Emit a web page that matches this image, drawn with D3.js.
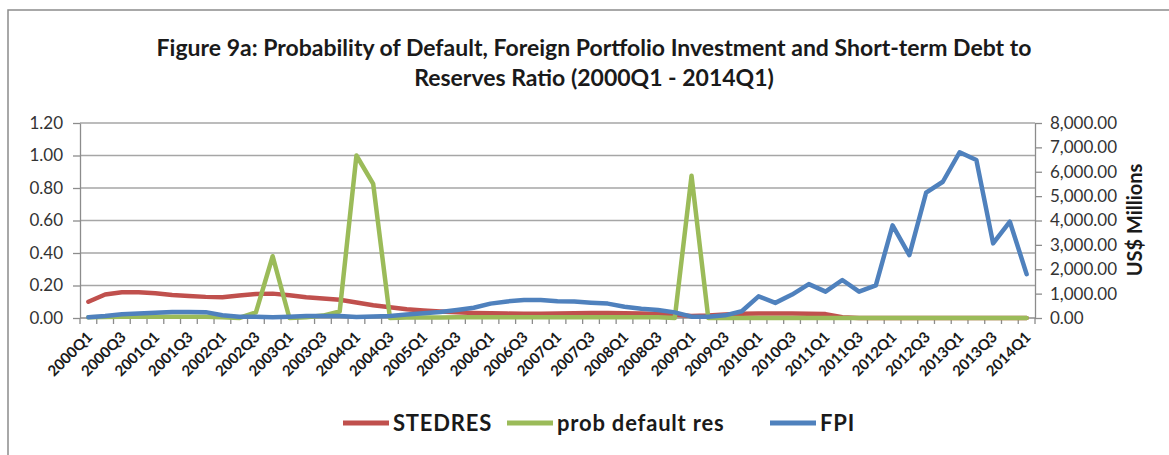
<!DOCTYPE html>
<html>
<head>
<meta charset="utf-8">
<script src="https://cdn.jsdelivr.net/npm/d3@7"></script>
<style>
  body { margin: 0; background: #fff; }
  svg { display: block; font-family: Lato, "Open Sans", sans-serif; }
</style>
</head>
<body>
<div id="chart"></div>
<script>
const quarters = [
  "2000Q1","2000Q2","2000Q3","2000Q4","2001Q1","2001Q2","2001Q3","2001Q4",
  "2002Q1","2002Q2","2002Q3","2002Q4","2003Q1","2003Q2","2003Q3","2003Q4",
  "2004Q1","2004Q2","2004Q3","2004Q4","2005Q1","2005Q2","2005Q3","2005Q4",
  "2006Q1","2006Q2","2006Q3","2006Q4","2007Q1","2007Q2","2007Q3","2007Q4",
  "2008Q1","2008Q2","2008Q3","2008Q4","2009Q1","2009Q2","2009Q3","2009Q4",
  "2010Q1","2010Q2","2010Q3","2010Q4","2011Q1","2011Q2","2011Q3","2011Q4",
  "2012Q1","2012Q2","2012Q3","2012Q4","2013Q1","2013Q2","2013Q3","2013Q4",
  "2014Q1"
];

// short-term debt to reserves (left axis)
const stedres = [
  0.100, 0.145, 0.158, 0.158, 0.152, 0.141, 0.135, 0.130,
  0.128, 0.138, 0.148, 0.150, 0.140, 0.128, 0.120, 0.112,
  0.095, 0.078, 0.066, 0.054, 0.046, 0.040, 0.035, 0.031,
  0.029, 0.027, 0.026, 0.026, 0.027, 0.030, 0.031, 0.031,
  0.030, 0.028, 0.025, 0.020, 0.012, 0.015, 0.022, 0.026,
  0.027, 0.027, 0.027, 0.026, 0.024, 0.005, 0, 0,
  0, 0, 0, 0, 0, 0, 0, 0,
  0
];

// probability of default (left axis)
const probDefault = [
  0.004, 0.006, 0.008, 0.008, 0.008, 0.008, 0.008, 0.008,
  0.004, 0.000, 0.035, 0.380, 0.000, 0.005, 0.015, 0.040,
  1.000, 0.825, 0.000, 0.003, 0.003, 0.003, 0.005, 0.005,
  0.005, 0.005, 0.005, 0.005, 0.005, 0.005, 0.005, 0.005,
  0.005, 0.005, 0.005, 0.000, 0.875, 0.000, 0, 0,
  0, 0, 0, 0, 0, 0, 0, 0,
  0, 0, 0, 0, 0, 0, 0, 0,
  0
];

// foreign portfolio investment, US$ millions (right axis)
const fpi = [
  30, 80, 150, 180, 220, 250, 250, 240,
  110, 50, 50, 30, 50, 80, 80, 80,
  40, 60, 80, 140, 190, 250, 330, 420,
  590, 680, 740, 740, 690, 680, 630, 590,
  465, 380, 330, 230, 55, 50, 110, 275,
  890, 620, 960, 1390, 1080, 1560, 1080, 1340,
  3800, 2580, 5140, 5590, 6800, 6480, 3060, 3950,
  1800
];

const leftTicks = [0, 0.2, 0.4, 0.6, 0.8, 1.0, 1.2];
const rightTicks = [0, 1000, 2000, 3000, 4000, 5000, 6000, 7000, 8000];

const series = [
  { name: "STEDRES", values: stedres, axis: "left", color: "#c0504d" },
  { name: "prob default res", values: probDefault, axis: "left", color: "#9bbb59" },
  { name: "FPI", values: fpi, axis: "right", color: "#4f81bd" }
];

const width = 1169, height = 455;
const plot = { left: 80, right: 1035, top: 123, bottom: 318 };

const svg = d3.select("#chart").append("svg")
  .attr("width", width)
  .attr("height", height);

// chart border
svg.append("rect")
  .attr("x", 8).attr("y", 10)
  .attr("width", width + 20).attr("height", height + 20)
  .attr("fill", "#fff")
  .attr("stroke", "#8c8c8c")
  .attr("stroke-width", 1.5);

// title
const title = svg.append("text")
  .attr("text-anchor", "middle")
  .attr("font-weight", "bold")
  .attr("font-size", 23)
  .attr("fill", "#1a1a1a");
title.append("tspan").attr("x", 594).attr("y", 56)
  .text("Figure 9a: Probability of Default, Foreign Portfolio Investment and Short-term Debt to");
title.append("tspan").attr("x", 594).attr("y", 86)
  .text("Reserves Ratio (2000Q1 - 2014Q1)");

const x = d3.scalePoint()
  .domain(quarters)
  .range([plot.left, plot.right])
  .padding(0.5);
const step = x.step();

const yL = d3.scaleLinear().domain([0, 1.2]).range([plot.bottom, plot.top]);
const yR = d3.scaleLinear().domain([0, 8000]).range([plot.bottom, plot.top]);

// gridlines
svg.append("g")
  .selectAll("line")
  .data(leftTicks.filter(d => d > 0))
  .join("line")
    .attr("x1", plot.left).attr("x2", plot.right)
    .attr("y1", d => yL(d)).attr("y2", d => yL(d))
    .attr("stroke", "#a6a6a6")
    .attr("stroke-width", 1.3);

// left axis
const gl = svg.append("g")
  .attr("transform", `translate(${plot.left},0)`)
  .call(d3.axisLeft(yL).tickValues(leftTicks).tickFormat(d3.format(".2f"))
    .tickSizeInner(7).tickSizeOuter(0).tickPadding(10));

// right axis
const gr = svg.append("g")
  .attr("transform", `translate(${plot.right},0)`)
  .call(d3.axisRight(yR).tickValues(rightTicks).tickFormat(d3.format(",.2f"))
    .tickSizeInner(7).tickSizeOuter(0).tickPadding(8));

[gl, gr].forEach(g => {
  g.select(".domain").attr("stroke", "#8c8c8c").attr("stroke-width", 1.3);
  g.selectAll(".tick line").attr("stroke", "#8c8c8c").attr("stroke-width", 1.3);
  g.selectAll(".tick text")
    .attr("font-family", "Lato, 'Open Sans', sans-serif")
    .attr("font-size", 17)
    .attr("fill", "#333");
});

// x axis line + boundary ticks
const gx = svg.append("g");
gx.append("line")
  .attr("x1", plot.left).attr("x2", plot.right)
  .attr("y1", plot.bottom).attr("y2", plot.bottom)
  .attr("stroke", "#8c8c8c").attr("stroke-width", 1.3);
gx.selectAll(".xt")
  .data(d3.range(quarters.length + 1))
  .join("line")
    .attr("class", "xt")
    .attr("x1", i => x(quarters[0]) - step / 2 + i * step)
    .attr("x2", i => x(quarters[0]) - step / 2 + i * step)
    .attr("y1", plot.bottom).attr("y2", plot.bottom + 6)
    .attr("stroke", "#8c8c8c").attr("stroke-width", 1.3);

gx.selectAll(".xl")
  .data(quarters.filter((q, i) => i % 2 === 0))
  .join("text")
    .attr("class", "xl")
    .attr("text-anchor", "end")
    .attr("font-size", 15)
    .attr("font-weight", "bold")
    .attr("fill", "#1a1a1a")
    .attr("transform", d => `translate(${x(d) + 5},${plot.bottom + 20}) rotate(-45)`)
    .text(d => d);

// y2 title
svg.append("text")
  .attr("transform", "translate(1142,220) rotate(-90)")
  .attr("text-anchor", "middle")
  .attr("font-size", 20)
  .attr("font-weight", "bold")
  .attr("fill", "#1a1a1a")
  .text("US$ Millions");

// lines
const lineFor = s => d3.line()
  .x((d, i) => x(quarters[i]))
  .y(d => (s.axis === "left" ? yL : yR)(d));

svg.append("g")
  .selectAll("path")
  .data(series)
  .join("path")
    .attr("fill", "none")
    .attr("stroke", s => s.color)
    .attr("stroke-width", 4.5)
    .attr("stroke-linejoin", "round")
    .attr("stroke-linecap", "round")
    .attr("d", s => lineFor(s)(s.values));

// legend
const legendX = [343, 507, 770];
const legend = svg.append("g")
  .selectAll("g")
  .data(series)
  .join("g")
    .attr("transform", (s, i) => `translate(${legendX[i]},423)`);
legend.append("line")
  .attr("x1", 0).attr("x2", 46)
  .attr("stroke", s => s.color)
  .attr("stroke-width", 5);
legend.append("text")
  .attr("x", 50)
  .attr("dy", "0.35em")
  .attr("font-size", 22)
  .attr("font-weight", "bold")
  .attr("letter-spacing", 0.8)
  .attr("fill", "#1a1a1a")
  .text(s => s.name);
</script>
</body>
</html>
